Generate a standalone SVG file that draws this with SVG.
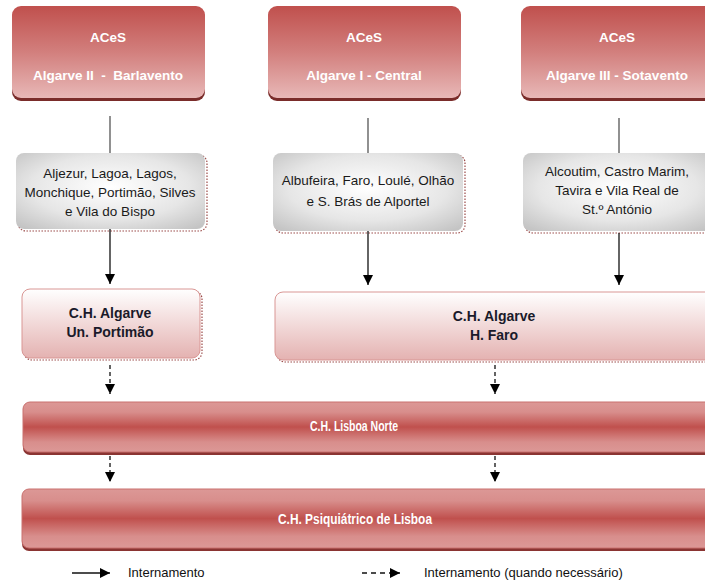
<svg xmlns="http://www.w3.org/2000/svg" width="705" height="585" viewBox="0 0 705 585">
<defs>
<linearGradient id="gAces" x1="0" y1="0" x2="0" y2="1">
<stop offset="0" stop-color="#c0504d"/>
<stop offset="0.5" stop-color="#d27f7d"/>
<stop offset="1" stop-color="#e8b8b7"/>
</linearGradient>
<radialGradient id="gGray" cx="0.5" cy="0.45" r="0.7">
<stop offset="0" stop-color="#ffffff"/>
<stop offset="0.6" stop-color="#e6e6e6"/>
<stop offset="1" stop-color="#c4c4c4"/>
</radialGradient>
<linearGradient id="gCH" x1="0" y1="0" x2="0" y2="1">
<stop offset="0" stop-color="#ffffff"/>
<stop offset="1" stop-color="#e4b2b1"/>
</linearGradient>
<linearGradient id="gBar" x1="0" y1="0" x2="0" y2="1">
<stop offset="0" stop-color="#dc9896"/>
<stop offset="0.2" stop-color="#d88e8c"/>
<stop offset="0.5" stop-color="#c0504d"/>
<stop offset="0.8" stop-color="#d88e8c"/>
<stop offset="1" stop-color="#dc9896"/>
</linearGradient>
<marker id="ah" viewBox="0 0 10 10" refX="10" refY="5" markerWidth="10" markerHeight="10" markerUnits="userSpaceOnUse" orient="auto">
<path d="M0,0 L10,5 L0,10 Z" fill="#000"/>
</marker>
</defs>
<style>
.acesSh{fill:#7a2c2a}
.aces{fill:url(#gAces)}
.wt{font-family:"Liberation Sans Narrow","Liberation Sans",Arial,sans-serif;font-weight:bold;font-size:13.5px;fill:#ffffff;text-anchor:middle}
.bt{font-size:15px}
.gray{fill:url(#gGray)}
.sh{fill:none;stroke:#9a4a48;stroke-width:1.2;stroke-dasharray:1.5 1.5}
.gt{font-family:"Liberation Sans Narrow","Liberation Sans",Arial,sans-serif;font-size:13.5px;fill:#1a1a1a;text-anchor:middle}
.ch{fill:url(#gCH);stroke:#d99694;stroke-width:1}
.ct{font-family:"Liberation Sans Narrow","Liberation Sans",Arial,sans-serif;font-weight:bold;font-size:14px;fill:#1a1a2a;text-anchor:middle}
.bar{fill:url(#gBar);stroke:#c9706e;stroke-width:1}
.barSh{fill:#8a3432}
.ln{stroke:#555;stroke-width:1.3;fill:none}
.ar{stroke:#111;stroke-width:1.3;fill:none;marker-end:url(#ah)}
.da{stroke:#111;stroke-width:1.3;fill:none;stroke-dasharray:4 3;marker-end:url(#ah)}
.lt{font-family:"Liberation Sans Narrow","Liberation Sans",Arial,sans-serif;font-size:13px;fill:#111}
</style>
<rect width="705" height="585" fill="#ffffff"/>

<g id="aces1">
<rect class="acesSh" x="12" y="9" width="193" height="92" rx="9"/>
<rect class="aces" x="12" y="6" width="193" height="92" rx="9"/>
<text class="wt" x="108" y="42">ACeS</text>
<text class="wt" x="108" y="80" xml:space="preserve">Algarve II  -  Barlavento</text>
</g>
<g id="aces2">
<rect class="acesSh" x="268" y="9" width="193" height="92" rx="9"/>
<rect class="aces" x="268" y="6" width="193" height="92" rx="9"/>
<text class="wt" x="364" y="42">ACeS</text>
<text class="wt" x="364" y="80">Algarve I - Central</text>
</g>
<g id="aces3">
<rect class="acesSh" x="521" y="9" width="193" height="92" rx="9"/>
<rect class="aces" x="521" y="6" width="193" height="92" rx="9"/>
<text class="wt" x="617" y="42">ACeS</text>
<text class="wt" x="617" y="80">Algarve III - Sotavento</text>
</g>

<g id="mun1">
<rect class="sh" x="18" y="155" width="189" height="76" rx="8"/>
<rect class="gray" x="16" y="153" width="189" height="76" rx="8"/>
<text class="gt" x="110" y="178">Aljezur, Lagoa, Lagos,</text>
<text class="gt" x="110" y="197">Monchique, Portimão, Silves</text>
<text class="gt" x="110" y="216">e Vila do Bispo</text>
</g>
<g id="mun2">
<rect class="sh" x="275" y="155" width="190" height="78" rx="8"/>
<rect class="gray" x="273" y="153" width="190" height="78" rx="8"/>
<text class="gt" x="368" y="185">Albufeira, Faro, Loulé, Olhão</text>
<text class="gt" x="368" y="206">e S. Brás de Alportel</text>
</g>
<g id="mun3">
<rect class="sh" x="525" y="155" width="190" height="78" rx="8"/>
<rect class="gray" x="523" y="153" width="190" height="78" rx="8"/>
<text class="gt" x="617" y="176">Alcoutim, Castro Marim,</text>
<text class="gt" x="617" y="195">Tavira e Vila Real de</text>
<text class="gt" x="617" y="214">St.º António</text>
</g>

<g id="chPortimao">
<rect class="sh" x="24" y="291" width="178" height="69" rx="8"/>
<rect class="ch" x="22" y="289" width="178" height="69" rx="8"/>
<text class="ct" x="110" y="318">C.H. Algarve</text>
<text class="ct" x="110" y="337">Un. Portimão</text>
</g>
<g id="chFaro">
<rect class="sh" x="277" y="294" width="440" height="68" rx="8"/>
<rect class="ch" x="275" y="292" width="440" height="68" rx="8"/>
<text class="ct" x="494" y="321">C.H. Algarve</text>
<text class="ct" x="494" y="340">H. Faro</text>
</g>

<g id="chLisboaNorte">
<rect class="barSh" x="23" y="404" width="700" height="51" rx="7"/>
<rect class="bar" x="23" y="402" width="700" height="50" rx="7"/>
<text class="wt bt" x="354" y="431" textLength="88" lengthAdjust="spacingAndGlyphs">C.H. Lisboa Norte</text>
</g>
<g id="chPsiq">
<rect class="barSh" x="22" y="491" width="700" height="60" rx="7"/>
<rect class="bar" x="22" y="489" width="700" height="59" rx="7"/>
<text class="wt bt" x="355" y="524" textLength="154" lengthAdjust="spacingAndGlyphs">C.H. Psiquiátrico de Lisboa</text>
</g>

<g id="connectors">
<line class="ln" x1="110" y1="116" x2="110" y2="153"/>
<line class="ln" x1="368" y1="118" x2="368" y2="153"/>
<line class="ln" x1="619" y1="118" x2="619" y2="153"/>
<line class="ar" x1="110" y1="229" x2="110" y2="284"/>
<line class="ar" x1="368" y1="231" x2="368" y2="285"/>
<line class="ar" x1="619" y1="233" x2="619" y2="285"/>
<line class="da" x1="110" y1="365" x2="110" y2="394"/>
<line class="da" x1="495" y1="365" x2="495" y2="394"/>
<line class="da" x1="110" y1="456" x2="110" y2="482"/>
<line class="da" x1="495" y1="456" x2="495" y2="482"/>
</g>

<g id="legend">
<line class="ar" x1="72" y1="573" x2="110" y2="573"/>
<text class="lt" x="128" y="577">Internamento</text>
<line class="da" x1="362" y1="573" x2="400" y2="573" style="stroke-dasharray:5 4"/>
<text class="lt" x="424" y="577">Internamento (quando necessário)</text>
</g>
</svg>
